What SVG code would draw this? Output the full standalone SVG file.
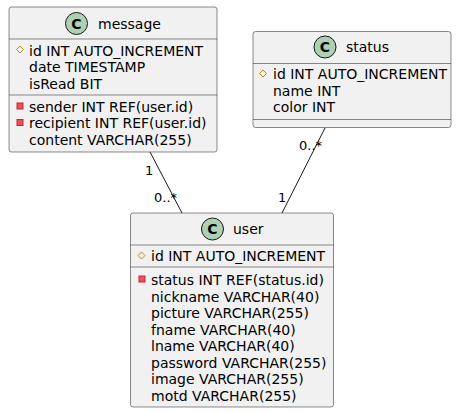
<svg xmlns="http://www.w3.org/2000/svg" width="457" height="413" viewBox="0 0 457 413">
<style>
.box{fill:#F1F1F1;stroke:#181818;stroke-width:0.5}
.sep{stroke:#181818;stroke-width:0.5}
.circ{fill:#ADD1B2;stroke:#181818;stroke-width:1}
.t{font-family:"DejaVu Sans",sans-serif;font-size:14px;fill:#000}
.cl{font-family:"DejaVu Sans",sans-serif;font-size:14px;font-weight:bold;fill:#000}
.lbl{font-family:"DejaVu Sans",sans-serif;font-size:13px;fill:#000}
.pk{fill:none;stroke:#B38D22;stroke-width:1}
.fk{fill:#F24D5C;stroke:#C82930;stroke-width:1}
.edge{stroke:#181818;stroke-width:1;fill:none}
</style>
<g id="connectors">
<path class="edge" d="M150,152 L182,213"/>
<path class="edge" d="M325,128 L282,213"/>
<text class="lbl" x="145" y="175">1</text>
<text class="lbl" x="154" y="202">0..*</text>
<text class="lbl" x="299" y="150">0..*</text>
<text class="lbl" x="278" y="202">1</text>
</g>
<g id="message">
<rect class="box" x="9" y="7" width="208" height="145" rx="2.5"/>
<circle class="circ" cx="76.5" cy="23.5" r="11"/>
<text class="cl" x="76.5" y="28.5" text-anchor="middle">C</text>
<text class="t" x="98" y="28.5">message</text>
<line class="sep" x1="9" y1="39" x2="217" y2="39"/>
<polygon class="pk" points="20,46 23.5,49.5 20,53 16.5,49.5"/>
<text class="t" x="29" y="55.5">id INT AUTO_INCREMENT</text>
<text class="t" x="29" y="72">date TIMESTAMP</text>
<text class="t" x="29" y="88.5">isRead BIT</text>
<line class="sep" x1="9" y1="95" x2="217" y2="95"/>
<rect class="fk" x="17" y="103" width="6" height="6"/>
<text class="t" x="29" y="111.5">sender INT REF(user.id)</text>
<rect class="fk" x="17" y="119.5" width="6" height="6"/>
<text class="t" x="29" y="128">recipient INT REF(user.id)</text>
<text class="t" x="29" y="144.5">content VARCHAR(255)</text>
</g>
<g id="status">
<rect class="box" x="253" y="31.5" width="198" height="96" rx="2.5"/>
<circle class="circ" cx="325" cy="47" r="11"/>
<text class="cl" x="325" y="52" text-anchor="middle">C</text>
<text class="t" x="346" y="52">status</text>
<line class="sep" x1="253" y1="63.5" x2="451" y2="63.5"/>
<polygon class="pk" points="263,70 266.5,73.5 263,77 259.5,73.5"/>
<text class="t" x="273" y="79">id INT AUTO_INCREMENT</text>
<text class="t" x="273" y="95.5">name INT</text>
<text class="t" x="273" y="112">color INT</text>
<line class="sep" x1="253" y1="119.5" x2="451" y2="119.5"/>
</g>
<g id="user">
<rect class="box" x="130.5" y="213" width="203" height="194" rx="2.5"/>
<circle class="circ" cx="212.5" cy="229" r="11"/>
<text class="cl" x="212.5" y="234" text-anchor="middle">C</text>
<text class="t" x="233" y="234">user</text>
<line class="sep" x1="130.5" y1="245" x2="333.5" y2="245"/>
<polygon class="pk" points="141.5,252 145,255.5 141.5,259 138,255.5"/>
<text class="t" x="151" y="261">id INT AUTO_INCREMENT</text>
<line class="sep" x1="130.5" y1="267" x2="333.5" y2="267"/>
<rect class="fk" x="139" y="276" width="6" height="6"/>
<text class="t" x="151" y="285">status INT REF(status.id)</text>
<text class="t" x="151" y="301.5">nickname VARCHAR(40)</text>
<text class="t" x="151" y="318">picture VARCHAR(255)</text>
<text class="t" x="151" y="334.5">fname VARCHAR(40)</text>
<text class="t" x="151" y="351">lname VARCHAR(40)</text>
<text class="t" x="151" y="367.5">password VARCHAR(255)</text>
<text class="t" x="151" y="384">image VARCHAR(255)</text>
<text class="t" x="151" y="400.5">motd VARCHAR(255)</text>
</g>
</svg>
